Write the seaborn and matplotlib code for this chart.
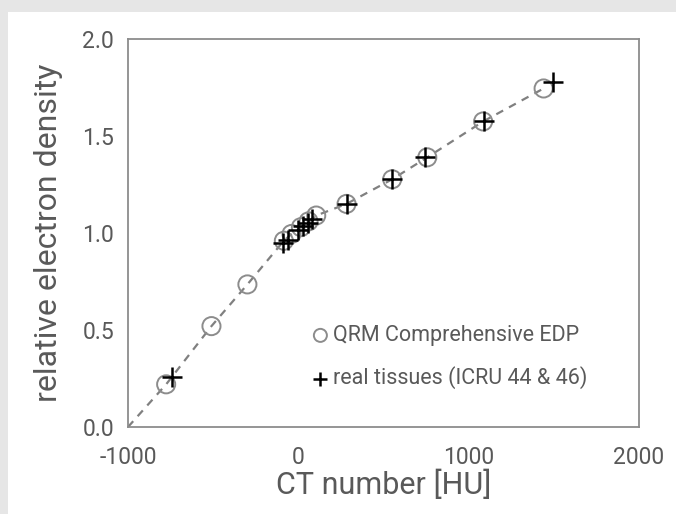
import numpy as np
import pandas as pd
import matplotlib
matplotlib.use("Agg")
import matplotlib.pyplot as plt
from matplotlib.patches import Rectangle
import seaborn as sns

# data
qrm_hu = [-776, -510, -299, -85, -40, 15, 60, 105, 283, 551, 757, 1085, 1440]
qrm_red = [0.22, 0.52, 0.735, 0.96, 0.995, 1.03, 1.06, 1.09, 1.15, 1.277, 1.39, 1.575, 1.745]

icru_hu = [-741, -90, -60, 0, 30, 58, 80, 283, 548, 742, 1088, 1495]
icru_red = [0.26, 0.95, 0.965, 1.015, 1.035, 1.05, 1.07, 1.15, 1.28, 1.39, 1.575, 1.78]

# calibration curve: starts at air (-1000, 0) and runs through the QRM inserts
curve_hu = [-1000] + qrm_hu
curve_red = [0.0] + qrm_red

x_ticks = [-1000, 0, 1000, 2000]
y_ticks = [0.0, 0.5, 1.0, 1.5, 2.0]

text_col = '#595959'
grey = '#8c8c8c'

sns.set_style('white')
plt.rcParams['font.family'] = ['Roboto', 'DejaVu Sans']

fig = plt.figure(figsize=(6.76, 5.14), dpi=100)
fig.patch.set_facecolor('#e6e6e6')
fig.add_artist(Rectangle((8 / 676, 0), 1, 1 - 12 / 514, transform=fig.transFigure,
                         facecolor='white', edgecolor='none', zorder=-1))
ax = fig.add_axes([128 / 676, 1 - 427 / 514, 511 / 676, 388 / 514])

sns.lineplot(x=curve_hu, y=curve_red, ax=ax, color='#808080', linewidth=1.6,
             linestyle=(0, (3.5, 3.0)), zorder=1)
sns.scatterplot(x=qrm_hu, y=qrm_red, ax=ax, marker='o', s=170, facecolor='none',
                edgecolor=grey, linewidth=1.4, zorder=2, label='QRM Comprehensive EDP')
sns.scatterplot(x=icru_hu, y=icru_red, ax=ax, marker='+', s=200, color='black',
                linewidth=1.8, zorder=3, label='real tissues (ICRU 44 & 46)')

ax.set_xlim(-1000, 2000)
ax.set_ylim(0, 2.0)
ax.set_xticks(x_ticks)
ax.set_yticks(y_ticks)
ax.set_xticklabels([str(t) for t in x_ticks])
ax.set_yticklabels([f'{t:.1f}' for t in y_ticks])
ax.tick_params(direction='in', length=4.5, width=1.1, color=grey,
               labelsize=16.5, labelcolor=text_col)
ax.tick_params(axis='x', pad=14)
ax.tick_params(axis='y', pad=10)

for sp in ax.spines.values():
    sp.set_color(grey)
    sp.set_linewidth(1.3)
    sp.set_visible(True)

ax.set_xlabel('CT number [HU]', fontsize=22, color=text_col, labelpad=0)
ax.set_ylabel('relative electron density', fontsize=23, color=text_col, labelpad=14)

leg = ax.legend(loc='upper left', bbox_to_anchor=(0.347, 0.285), frameon=False,
                fontsize=15.5, labelcolor=text_col, handlelength=0.6,
                handletextpad=0.3, labelspacing=0.95, markerscale=0.72,
                borderaxespad=0)

fig.savefig('out.png', dpi=100, facecolor=fig.get_facecolor())
